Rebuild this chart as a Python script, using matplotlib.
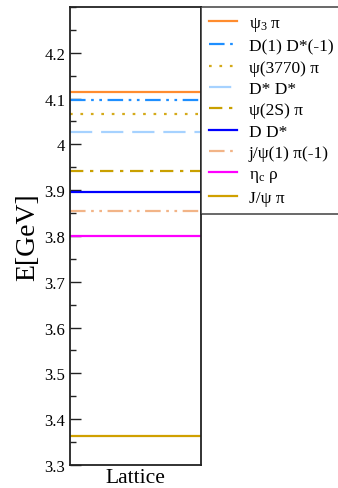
import matplotlib
matplotlib.use("Agg")
import matplotlib.pyplot as plt
from matplotlib.ticker import MultipleLocator

plt.rcParams['font.family'] = ['Liberation Serif', 'DejaVu Serif']
plt.rcParams['mathtext.fontset'] = 'custom'
plt.rcParams['mathtext.rm'] = 'Liberation Serif'
plt.rcParams['mathtext.it'] = 'Liberation Serif:italic'

labels = ['ψ$_3$ π', 'D(1) D*(-1)', 'ψ(3770) π', 'D* D*', 'ψ(2S) π',
          'D D*', 'j/ψ(1) π(-1)', 'η$_\\mathrm{c}$ ρ', 'J/ψ π']
energies = [4.115, 4.097, 4.066, 4.026, 3.942, 3.895, 3.854, 3.801, 3.363]
colors = ['#ff8c2e', '#1e8fff', '#d4aa1a', '#a6d2ff', '#c9a000',
          '#0000ff', '#f2b487', '#ff00ff', '#d0a000']
styles = ['-', (0, (7, 2.5, 1.2, 2.5, 1.2, 2.5)), (0, (1.2, 3.5)), (0, (10, 4)),
          (0, (6, 3, 1.5, 3)), '-', (0, (7, 2.5, 1.2, 2.5, 1.2, 2.5)), '-', '-']

fig = plt.figure(figsize=(3.38, 4.89), dpi=100)
ax = fig.add_axes([70/338, 1-466/489, (201-70)/338, (466-8)/489])

for lab, e, c, s in zip(labels, energies, colors, styles):
    ax.plot([0, 1], [e, e], color=c, linestyle=s, lw=1.6, label=lab)

ax.set_xlim(0, 1)
ax.set_ylim(3.3, 4.3)
ax.yaxis.set_minor_locator(MultipleLocator(0.05))
ax.set_yticks([3.3, 3.4, 3.5, 3.6, 3.7, 3.8, 3.9, 4.0, 4.1, 4.2])
ax.set_yticklabels(['3.3', '3.4', '3.5', '3.6', '3.7', '3.8', '3.9', '4', '4.1', '4.2'])
ax.set_xticks([0.5])
ax.set_xticklabels(['Lattice'])
ax.tick_params(axis='y', direction='in', length=8, width=1, labelsize=12, colors='#222222')
ax.tick_params(axis='y', which='minor', direction='in', length=4, width=1, color='#222222')
ax.tick_params(axis='x', length=0, labelsize=15.5, pad=2)
ax.tick_params(axis='y', labelcolor='black')
ax.set_ylabel('E[GeV]', fontsize=20, labelpad=3)
for sp in ax.spines.values():
    sp.set_linewidth(1.3)
    sp.set_color('#222222')

leg = ax.legend(loc='upper left', bbox_to_anchor=(201/338, 1-8/489),
                bbox_transform=fig.transFigure, fontsize=12.5, frameon=True,
                fancybox=False, borderaxespad=0, handlelength=1.6,
                handletextpad=0.7, labelspacing=0.3, borderpad=0.45)
leg.get_frame().set_edgecolor('#222222')
leg.get_frame().set_linewidth(1.2)

fig.savefig('out.png', dpi=100)
